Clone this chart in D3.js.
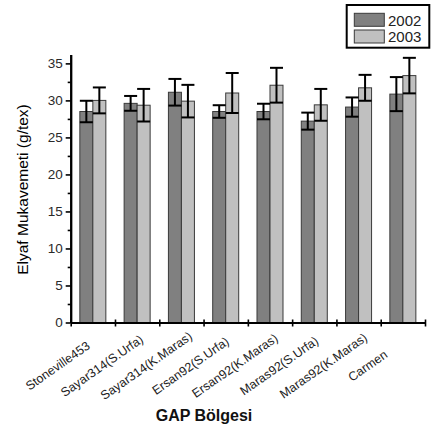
<!DOCTYPE html>
<html>
<head>
<meta charset="utf-8">
<script src="https://cdn.jsdelivr.net/npm/d3@7"></script>
<style>
  html, body { margin: 0; padding: 0; background: #fff; }
  svg { display: block; font-family: Arial, "Liberation Sans", sans-serif; }
</style>
</head>
<body>
<svg id="chart" width="437" height="434"></svg>
<script>
// Fibre strength by variety, GAP region, 2002 vs 2003
const categories = [
  "Stoneville453", "Sayar314(S.Urfa)", "Sayar314(K.Maras)", "Ersan92(S.Urfa)",
  "Ersan92(K.Maras)", "Maras92(S.Urfa)", "Maras92(K.Maras)", "Carmen"
];
const years = ["2002", "2003"];
const mean2002 = [28.5, 29.6, 31.1, 28.5, 28.5, 27.2, 29.1, 30.85];
const err2002  = [1.45, 1.0, 1.8, 0.85, 1.05, 1.15, 1.3, 2.3];
const mean2003 = [30.0, 29.35, 29.9, 31.0, 32.05, 29.4, 31.7, 33.35];
const err2003  = [1.75, 2.2, 2.2, 2.7, 2.35, 2.15, 1.75, 2.4];
const yMajorTicks = [0, 5, 10, 15, 20, 25, 30, 35];
const yMinorTicks = [2.5, 7.5, 12.5, 17.5, 22.5, 27.5, 32.5];

const fills = { "2002": "#808080", "2003": "#c0c0c0" };
const series = [
  { year: "2002", mean: mean2002, err: err2002 },
  { year: "2003", mean: mean2003, err: err2003 }
];

const svg = d3.select("#chart");
const plot = { left: 70.7, right: 425, top: 54.5, bottom: 322.5 };

const x = d3.scaleBand().domain(categories).range([plot.left, plot.right]).paddingInner(0).paddingOuter(0);
const bw = x.bandwidth();
const barW = 13;
const xs = d3.scaleBand().domain(years).range([bw / 2 - barW, bw / 2 + barW]).padding(0);
const y = d3.scaleLinear().domain([0, 36.2]).range([plot.bottom, plot.top]);
const xEdge = d3.scaleLinear().domain([0, categories.length]).range([plot.left, plot.right]);

// bars
const groups = svg.append("g").selectAll("g")
  .data(series).join("g");

groups.selectAll("rect")
  .data(s => categories.map((c, i) => ({ c, year: s.year, v: s.mean[i], e: s.err[i] })))
  .join("rect")
  .attr("x", d => x(d.c) + xs(d.year))
  .attr("y", d => y(d.v))
  .attr("width", xs.bandwidth())
  .attr("height", d => y(0) - y(d.v))
  .attr("fill", d => fills[d.year])
  .attr("stroke", "#3a3a3a")
  .attr("stroke-width", 1);

// error bars
const eb = svg.append("g").attr("stroke", "#000").attr("stroke-width", 2).attr("fill", "none");
series.forEach(s => {
  categories.forEach((c, i) => {
    const cx = x(c) + xs(s.year) + xs.bandwidth() / 2;
    const hi = y(s.mean[i] + s.err[i]);
    const lo = y(s.mean[i] - s.err[i]);
    const hw = xs.bandwidth() / 2;
    eb.append("line").attr("x1", cx).attr("x2", cx).attr("y1", hi).attr("y2", lo);
    eb.append("line").attr("x1", cx - hw).attr("x2", cx + hw).attr("y1", hi).attr("y2", hi);
    eb.append("line").attr("x1", cx - hw).attr("x2", cx + hw).attr("y1", lo).attr("y2", lo);
  });
});

// y axis
const yAxis = svg.append("g").attr("transform", `translate(${plot.left},0)`)
  .call(d3.axisLeft(y).tickValues(yMajorTicks).tickSize(5).tickSizeOuter(0).tickPadding(3));
const yMinor = svg.append("g").attr("transform", `translate(${plot.left},0)`)
  .call(d3.axisLeft(y).tickValues(yMinorTicks).tickSize(3).tickSizeOuter(0).tickFormat(""));
[yAxis, yMinor].forEach(g => {
  g.select(".domain").attr("stroke", "#000").attr("stroke-width", 2);
  g.selectAll(".tick line").attr("stroke", "#000").attr("stroke-width", 1.6);
});
yAxis.attr("font-size", 13.5).attr("font-family", "Arial, 'Liberation Sans', sans-serif");
yAxis.selectAll(".tick text").attr("fill", "#2a2a2a");

// x axis with ticks at category edges
const xAxis = svg.append("g").attr("transform", `translate(0,${plot.bottom})`)
  .call(d3.axisBottom(xEdge).tickValues(d3.range(categories.length + 1))
    .tickSizeInner(4).tickSizeOuter(0).tickFormat(""));
xAxis.select(".domain").attr("stroke", "#000").attr("stroke-width", 2);
xAxis.selectAll(".tick line").attr("stroke", "#000").attr("stroke-width", 1.6).attr("y1", -3);

// rotated category labels
svg.append("g").selectAll("text")
  .data(categories).join("text")
  .attr("transform", d => `translate(${x(d) + bw / 2 - 35},366) rotate(-35)`)
  .attr("text-anchor", "middle")
  .attr("dominant-baseline", "central")
  .attr("font-size", 12.5)
  .attr("fill", "#222")
  .text(d => d);

// axis titles
svg.append("text")
  .attr("transform", `translate(28,189.5) rotate(-90)`)
  .attr("text-anchor", "middle")
  .attr("font-size", 15.5)
  .attr("fill", "#000")
  .text("Elyaf Mukavemeti (g/tex)");

svg.append("text")
  .attr("x", 204).attr("y", 421)
  .attr("text-anchor", "middle")
  .attr("font-size", 16)
  .attr("font-weight", "bold")
  .attr("fill", "#111")
  .text("GAP Bölgesi");

// legend
const lg = svg.append("g");
lg.append("rect").attr("x", 346.7).attr("y", 5).attr("width", 82.6).attr("height", 42.7)
  .attr("fill", "#fff").attr("stroke", "#000").attr("stroke-width", 2);
years.forEach((yr, i) => {
  lg.append("rect").attr("x", 354.3).attr("y", 13.3 + i * 16.7).attr("width", 30).attr("height", 13)
    .attr("fill", fills[yr]).attr("stroke", "#3a3a3a").attr("stroke-width", 1);
  lg.append("text").attr("x", 388).attr("y", 25.5 + i * 16.7)
    .attr("font-size", 15).attr("fill", "#222").text(yr);
});
</script>
</body>
</html>
